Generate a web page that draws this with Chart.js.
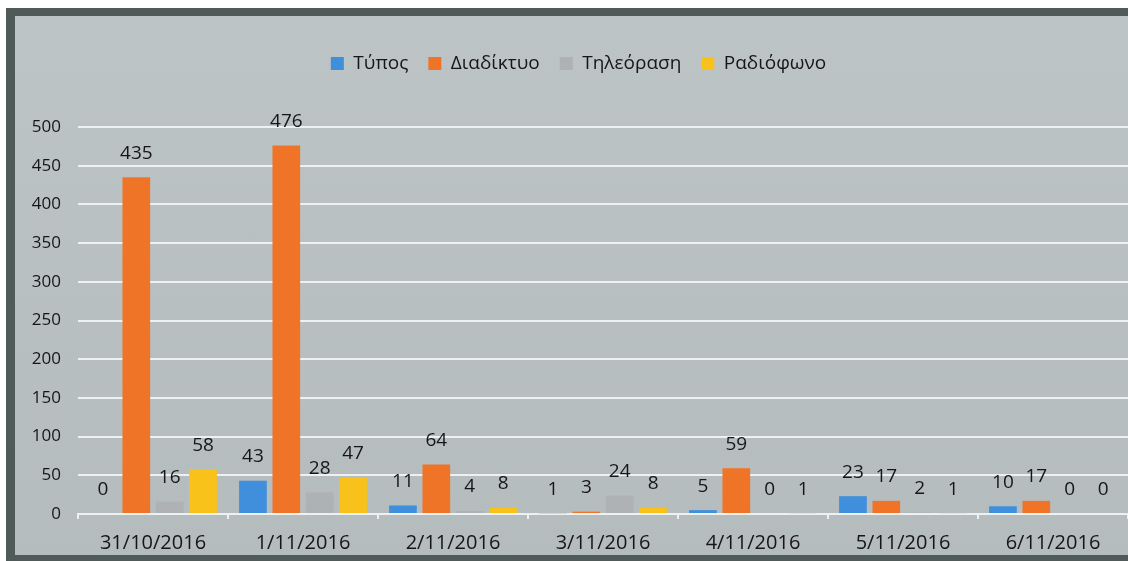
<!DOCTYPE html>
<html>
<head>
<meta charset="utf-8">
<script src="https://cdn.jsdelivr.net/npm/chart.js@4"></script>
<style>
  html, body { margin: 0; padding: 0; background: #ffffff; }
  #frame {
    position: absolute; left: 6px; top: 8px;
    width: 1122px; height: 553px;
    border-top: 8px solid #4f5a59;
    border-left: 9px solid #4f5a59;
    border-bottom: 6px solid #4f5a59;
    box-sizing: border-box;
    background: linear-gradient(180deg, #bdc4c6 0%, #b8bfc1 60%, #b5bcbe 100%);
  }
  #wrap { position: absolute; left: 0; top: 0; width: 1113px; height: 539px; }
</style>
</head>
<body>
<div id="frame"><div id="wrap"><canvas id="c"></canvas></div></div>
<script>
const categories = ['31/10/2016', '1/11/2016', '2/11/2016', '3/11/2016', '4/11/2016', '5/11/2016', '6/11/2016'];
const typos = [0, 43, 11, 1, 5, 23, 10];
const diadiktyo = [435, 476, 64, 3, 59, 17, 17];
const tileorasi = [16, 28, 4, 24, 0, 2, 0];
const radiofono = [58, 47, 8, 8, 1, 1, 0];
const seriesNames = ['Τύπος', 'Διαδίκτυο', 'Τηλεόραση', 'Ραδιόφωνο'];
const yTicks = [0, 50, 100, 150, 200, 250, 300, 350, 400, 450, 500];

const FONT = "'Open Sans', 'DejaVu Sans', sans-serif";

const dataLabels = {
  id: 'dataLabels',
  afterDatasetsDraw(chart) {
    const ctx = chart.ctx;
    ctx.save();
    ctx.font = '19px ' + FONT;
    ctx.fillStyle = '#161616';
    ctx.textAlign = 'center';
    ctx.textBaseline = 'middle';
    chart.data.datasets.forEach((ds, i) => {
      const meta = chart.getDatasetMeta(i);
      meta.data.forEach((bar, j) => {
        ctx.fillText(String(ds.data[j]), bar.x, bar.y - 24);
      });
    });
    ctx.restore();
  }
};

const legendMargin = {
  id: 'legendMargin',
  beforeInit(chart) {
    const orig = chart.legend.fit;
    chart.legend.fit = function () {
      orig.bind(chart.legend)();
      this.height = 93;
    };
  }
};

new Chart(document.getElementById('c'), {
  type: 'bar',
  data: {
    labels: categories,
    datasets: [
      { label: seriesNames[0], data: typos, backgroundColor: '#3f8fdc' },
      { label: seriesNames[1], data: diadiktyo, backgroundColor: '#f07428' },
      { label: seriesNames[2], data: tileorasi, backgroundColor: '#afb2b4' },
      { label: seriesNames[3], data: radiofono, backgroundColor: '#f8c21a' }
    ]
  },
  options: {
    responsive: true,
    maintainAspectRatio: false,
    animation: false,
    layout: { padding: { top: 18, left: 14, right: 0, bottom: 0 } },
    datasets: { bar: { categoryPercentage: 0.89, barPercentage: 0.83 } },
    plugins: {
      legend: {
        position: 'top',
        labels: {
          font: { size: 19, family: FONT },
          color: '#161616',
          boxWidth: 13,
          boxHeight: 13,
          padding: 20
        }
      },
      tooltip: { enabled: false }
    },
    scales: {
      x: {
        afterFit(scale) { scale.height = 41; },
        grid: { display: true, drawOnChartArea: false, drawTicks: true, tickLength: 5, color: '#eef1f1', lineWidth: 2, offset: true },
        border: { display: true, color: '#eef1f1', width: 2 },
        ticks: { font: { size: 20, family: FONT }, color: '#161616', padding: 12, maxRotation: 0 }
      },
      y: {
        min: 0, max: 500,
        afterBuildTicks(scale) { scale.ticks = yTicks.map(v => ({ value: v })); },
        afterFit(scale) { scale.width = 49; },
        grid: { color: '#eef1f1', lineWidth: 2, drawTicks: false },
        border: { display: false },
        ticks: { font: { size: 17, family: FONT }, color: '#161616', padding: 17 }
      }
    }
  },
  plugins: [dataLabels, legendMargin]
});
</script>
</body>
</html>
